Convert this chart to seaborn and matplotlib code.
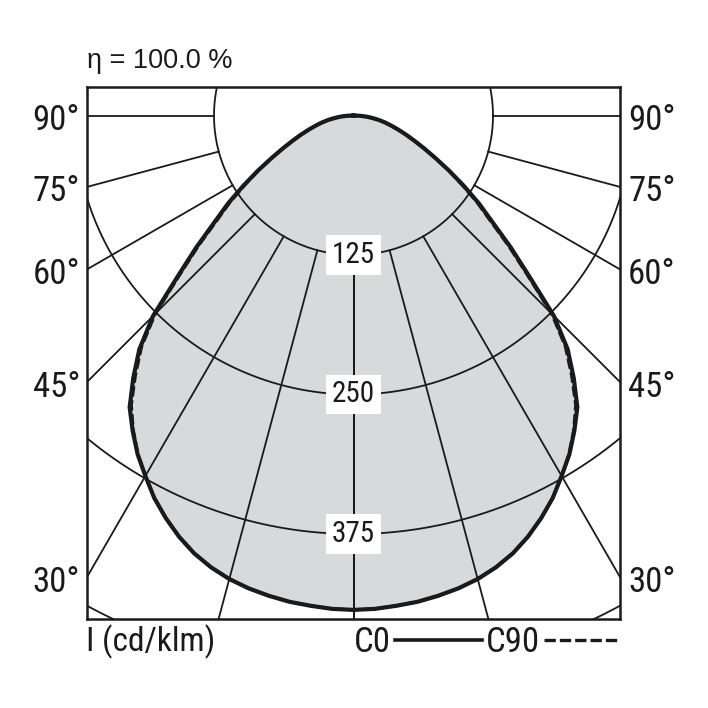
import numpy as np
import pandas as pd
import seaborn as sns
import matplotlib.pyplot as plt
from matplotlib import font_manager
from matplotlib.lines import Line2D

# pick a condensed face for the labels if one is installed
fonts = font_manager.fontManager.ttflist
names = {f.name for f in fonts}
stretch = 'normal'
if 'Liberation Sans Narrow' in names:
    NARROW = ['Liberation Sans Narrow', 'DejaVu Sans']
elif 'Roboto Condensed' in names:
    NARROW = ['Roboto Condensed', 'DejaVu Sans']
elif any(f.name == 'DejaVu Sans' and f.stretch == 'condensed' for f in fonts):
    NARROW = ['DejaVu Sans']
    stretch = 'condensed'
else:
    NARROW = ['Liberation Sans', 'DejaVu Sans']
REGULAR = ['Liberation Sans', 'DejaVu Sans']
plt.rcParams['font.family'] = NARROW
plt.rcParams['font.stretch'] = stretch

# luminous intensity distribution, angle from nadir (deg) -> cd/klm
gamma = [0, 2.5, 5, 7.5, 10, 12.5, 15, 17.5, 20, 22.5, 25, 27.5, 30, 32.5, 35, 37.5, 40, 42.5,
         45, 47.5, 50, 52.5, 55, 57.5, 60, 62.5, 65, 67.5, 70, 72.5, 75, 77.5, 80, 82.5, 85, 87.5, 90]
c0 = [443, 442.5, 441, 439.5, 437, 434, 430, 424.5, 417.5, 408.5, 398, 386.5, 373, 360, 345, 329.5,
      307, 284, 254, 214, 184, 157, 137, 117, 99, 83, 70, 59, 50, 42, 35, 29, 23, 17, 11.5, 6, 0]
c90 = [443, 442.5, 441, 439.5, 437, 434, 430, 424.5, 417.5, 408.5, 398, 386.5, 373, 359.5, 344, 327,
       304, 281, 251, 211, 181, 154, 134.5, 115, 98, 83, 70, 59, 50, 42, 35, 29, 23, 17, 11.5, 6, 0]

rings = [125, 250, 375, 500]
ring_labels = ['125', '250', '375']
rays = [0, 15, 30, 45, 60, 75, 90]
side_angles = [90, 75, 60, 45, 30]
side_labels = ['90°', '75°', '60°', '45°', '30°']
eta = 'η = 100.0 %'
unit_label = 'I (cd/klm)'
legend_names = ['C0', 'C90']

W = 708
INK = '#1a1a1a'
PX = 139.5 / 125  # pixels per cd/klm
XMAX = 266.5 / PX
YTOP, YBOT = 28.5 / PX, -503.5 / PX
CY = 115.5  # pixel row of the polar centre
DASH = (0, (3.4, 1.2))


def curve_frame(vals):
    g = [-a for a in gamma[::-1]] + gamma[1:]
    v = vals[::-1] + vals[1:]
    r = np.radians(g)
    return pd.DataFrame({'x': np.array(v) * np.sin(r), 'y': -np.array(v) * np.cos(r)})


df0 = curve_frame(c0)
df90 = curve_frame(c90)

fig = plt.figure(figsize=(7.08, 7.08), dpi=100)
ax = fig.add_axes([87 / W, 1 - 619 / W, 533 / W, 532 / W])
ax.set_xlim(-XMAX, XMAX)
ax.set_ylim(YBOT, YTOP)

# shaded distribution
ax.fill(df0['x'], df0['y'], color='#d8d9db', zorder=1, lw=0)

# polar grid
t = np.linspace(0, 2 * np.pi, 500)
for r in rings:
    ax.plot(r * np.cos(t), r * np.sin(t), color=INK, lw=1.3, zorder=2)
for a in rays:
    ar = np.radians(a)
    for s in (-1, 1):
        ax.plot([s * 125 * np.sin(ar), s * 900 * np.sin(ar)],
                [-125 * np.cos(ar), -900 * np.cos(ar)], color=INK, lw=1.3, zorder=2)

# curves
sns.lineplot(data=df0, x='x', y='y', sort=False, estimator=None, ax=ax,
             color=INK, lw=3.0, zorder=3)
sns.lineplot(data=df90, x='x', y='y', sort=False, estimator=None, ax=ax,
             color=INK, lw=2.2, linestyle=DASH, zorder=4)

# ring value labels
for r, lab in zip(rings, ring_labels):
    ax.text(0, -r, lab, ha='center', va='center', fontsize=21, color=INK, zorder=5,
            bbox=dict(facecolor='white', edgecolor='none', pad=4))

ax.set_xticks([])
ax.set_yticks([])
ax.set_xlabel('')
ax.set_ylabel('')
for sp in ax.spines.values():
    sp.set_linewidth(1.8)
    sp.set_color(INK)

# angle labels on both sides
for a, lab in zip(side_angles, side_labels):
    ypx = CY + (266.5 / np.tan(np.radians(a)) if a != 90 else 0) + 5
    fig.text(80 / W, 1 - ypx / W, lab, ha='right', va='center', fontsize=25, color=INK)
    fig.text(628 / W, 1 - ypx / W, lab, ha='left', va='center', fontsize=25, color=INK)

fig.text(87 / W, 1 - 61 / W, eta, ha='left', va='center', fontsize=19.5, family=REGULAR,
         stretch='normal', color=INK)
fig.text(86 / W, 1 - 642 / W, unit_label, ha='left', va='center', fontsize=24, color=INK)

# legend row
t0 = fig.text(354 / W, 1 - 642 / W, legend_names[0], ha='left', va='center', fontsize=25, color=INK)
t1 = fig.text(486 / W, 1 - 642 / W, legend_names[1], ha='left', va='center', fontsize=25, color=INK)
fig.canvas.draw()
r0 = t0.get_window_extent().x1 / W
r1 = t1.get_window_extent().x1 / W
fig.add_artist(Line2D([max(393 / W, r0 + 4 / W), 482 / W], [1 - 640 / W] * 2, color=INK, lw=2.6))
fig.add_artist(Line2D([max(543 / W, r1 + 4 / W), 618 / W], [1 - 640 / W] * 2, color=INK, lw=2.4,
                      linestyle=DASH))

fig.savefig('out.png', dpi=100, facecolor='white')
